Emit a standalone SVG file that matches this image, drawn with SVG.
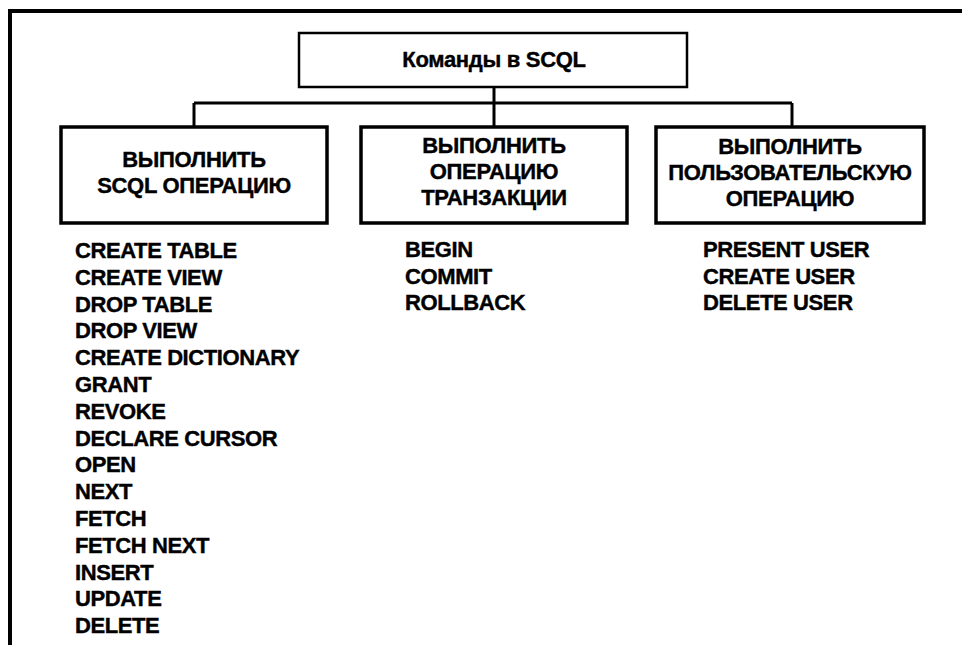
<svg xmlns="http://www.w3.org/2000/svg" width="962" height="645" viewBox="0 0 962 645">
<style>
.frame{fill:none;stroke:#000;stroke-width:4}
.box{fill:#fff;stroke:#000;stroke-width:3.5}
.top{fill:#fff;stroke:#000;stroke-width:2.5}
.conn{fill:none;stroke:#000;stroke-width:3}
.t{font-family:"Liberation Sans",Arial,sans-serif;font-weight:bold;font-size:22px;fill:#000;stroke:#000;stroke-width:0.4;letter-spacing:-0.3px}
.c{text-anchor:middle}
.l{font-family:"Liberation Sans",Arial,sans-serif;font-weight:bold;font-size:22px;fill:#000;stroke:#000;stroke-width:0.4;letter-spacing:-0.4px}
</style>
<rect width="962" height="645" fill="#fff"/>
<path class="frame" d="M10 645 V11 H962"/>
<g id="connectors">
<path class="conn" d="M494 87 V103"/>
<path class="conn" d="M194 103 H792"/>
<path class="conn" d="M194 103 V127"/>
<path class="conn" d="M494 103 V127"/>
<path class="conn" d="M792 103 V127"/>
</g>
<g id="root">
<rect class="top" x="299" y="33" width="388" height="54"/>
<text class="t c" x="494" y="67">Команды в SCQL</text>
</g>
<g id="sql-op">
<rect class="box" x="61" y="127" width="266" height="96"/>
<text class="t c" x="194" y="167">ВЫПОЛНИТЬ</text>
<text class="t c" x="194" y="193">SCQL ОПЕРАЦИЮ</text>
</g>
<g id="trans-op">
<rect class="box" x="361" y="127" width="266" height="96"/>
<text class="t c" x="494" y="153">ВЫПОЛНИТЬ</text>
<text class="t c" x="494" y="179">ОПЕРАЦИЮ</text>
<text class="t c" x="494" y="205">ТРАНЗАКЦИИ</text>
</g>
<g id="user-op">
<rect class="box" x="656" y="127" width="268" height="96"/>
<text class="t c" x="790" y="154">ВЫПОЛНИТЬ</text>
<text class="t c" x="790" y="180">ПОЛЬЗОВАТЕЛЬСКУЮ</text>
<text class="t c" x="790" y="206">ОПЕРАЦИЮ</text>
</g>
<g id="sql-list">
<text class="l" x="75" y="258">CREATE TABLE</text>
<text class="l" x="75" y="285">CREATE VIEW</text>
<text class="l" x="75" y="312">DROP TABLE</text>
<text class="l" x="75" y="338">DROP VIEW</text>
<text class="l" x="75" y="365">CREATE DICTIONARY</text>
<text class="l" x="75" y="392">GRANT</text>
<text class="l" x="75" y="419">REVOKE</text>
<text class="l" x="75" y="446">DECLARE CURSOR</text>
<text class="l" x="75" y="472">OPEN</text>
<text class="l" x="75" y="499">NEXT</text>
<text class="l" x="75" y="526">FETCH</text>
<text class="l" x="75" y="553">FETCH NEXT</text>
<text class="l" x="75" y="580">INSERT</text>
<text class="l" x="75" y="606">UPDATE</text>
<text class="l" x="75" y="633">DELETE</text>
</g>
<g id="trans-list">
<text class="l" x="405" y="257">BEGIN</text>
<text class="l" x="405" y="284">COMMIT</text>
<text class="l" x="405" y="310">ROLLBACK</text>
</g>
<g id="user-list">
<text class="l" x="703" y="257">PRESENT USER</text>
<text class="l" x="703" y="284">CREATE USER</text>
<text class="l" x="703" y="310">DELETE USER</text>
</g>
</svg>
